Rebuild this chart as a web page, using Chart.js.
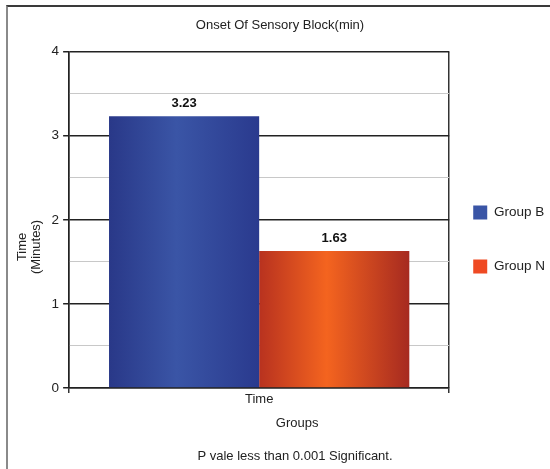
<!DOCTYPE html>
<html>
<head>
<meta charset="utf-8">
<script src="https://cdn.jsdelivr.net/npm/chart.js@4"></script>
<style>
  body { margin: 0; background: #fff; }
  #wrap { position: relative; width: 550px; height: 469px; }
  #frame { position: absolute; left: 6px; top: 5px; right: 0; bottom: 0;
           border-top: 2px solid #3a3a3a; border-left: 2px solid #8a8a8a; pointer-events: none; }
</style>
</head>
<body>
<div id="wrap">
  <canvas id="myChart" width="550" height="469"></canvas>
  <div id="frame"></div>
</div>
<script>
// datos del grafico
var categorias = ['Time'];
var grupos = ['Group B', 'Group N'];
var valoresB = [3.23];
var valoresN = [1.63];
var ticksY = [0, 1, 2, 3, 4];
var nota = 'P vale less than 0.001 Significant.';

// colores del degradado: borde, centro, borde
var coloresB = ['#293888', '#3a55a6', '#2a3a8e'];
var coloresN = ['#b8321f', '#f4641f', '#a62a20'];

Chart.defaults.font.family = '"Liberation Sans", Arial, sans-serif';
Chart.defaults.font.size = 13;
Chart.defaults.color = '#222';

/* degradado horizontal en cada barra */
const degradado = {
    id: 'degradado',
    beforeDatasetsDraw(chart) {
        const c = chart.ctx;
        chart.data.datasets.forEach((ds, i) => {
            chart.getDatasetMeta(i).data.forEach(bar => {
                const g = c.createLinearGradient(bar.x - bar.width / 2, 0, bar.x + bar.width / 2, 0);
                g.addColorStop(0, ds.tonos[0]);
                g.addColorStop(0.45, ds.tonos[1]);
                g.addColorStop(1, ds.tonos[2]);
                bar.options = Object.assign({}, bar.options, { backgroundColor: g });
            });
        });
    }
};

/* valores encima de las barras */
const etiquetas = {
    id: 'etiquetas',
    afterDatasetsDraw(chart) {
        const c = chart.ctx;
        c.save();
        c.font = 'bold 13px "Liberation Sans", Arial, sans-serif';
        c.fillStyle = '#111';
        c.textAlign = 'center';
        c.textBaseline = 'bottom';
        chart.data.datasets.forEach((ds, i) => {
            chart.getDatasetMeta(i).data.forEach((bar, j) => {
                c.fillText(ds.data[j].toFixed(2), bar.x, bar.y - 6);
            });
        });
        c.restore();
    }
};

/* acomodar leyenda, titulo y nota como en la imagen */
function mover(box, dx, dy) {
    box.left += dx; box.right += dx;
    box.top += dy; box.bottom += dy;
}
const acomodo = {
    id: 'acomodo',
    afterLayout(chart) {
        mover(chart.legend, -16, 5);
        mover(chart.titleBlock, -13, 0);
        const sub = chart.boxes.find(b => b !== chart.titleBlock && b.options && b.options.text === nota);
        if (sub) mover(sub, 2, 0);
    }
};

const ctx = document.getElementById('myChart');
new Chart(ctx, {
    type: 'bar',
    data: {
        labels: categorias,
        datasets: [{
            label: grupos[0],
            data: valoresB,
            tonos: coloresB,
            backgroundColor: coloresB[1],
            borderWidth: 0
        },
        {
            label: grupos[1],
            data: valoresN,
            tonos: coloresN,
            backgroundColor: '#ef4a23',
            borderWidth: 0
        }]
    },
    options: {
        responsive: false,
        animation: false,
        layout: { padding: { left: 15, right: -21 } },
        categoryPercentage: 0.79,
        barPercentage: 1.0,
        plugins: {
            title: {
                display: true,
                text: 'Onset Of Sensory Block(min)',
                font: { size: 13, weight: 'normal' },
                color: '#222',
                padding: { top: 18, bottom: 18 }
            },
            subtitle: {
                display: true,
                position: 'bottom',
                text: nota,
                font: { size: 13 },
                color: '#222',
                padding: { top: 17.4, bottom: 5.2 }
            },
            legend: {
                position: 'right',
                labels: {
                    boxWidth: 14,
                    boxHeight: 14,
                    padding: 40,
                    color: '#222',
                    font: { size: 13.5 }
                }
            },
            tooltip: { enabled: false }
        },
        scales: {
            x: {
                offset: true,
                grid: {
                    display: true,
                    offset: true,
                    color: '#333',
                    lineWidth: 1.5,
                    tickLength: 5
                },
                border: { color: '#222', width: 1.5 },
                ticks: { color: '#222', padding: -1 },
                title: {
                    display: true,
                    text: '                     Groups',
                    color: '#222',
                    padding: { top: 8.6, bottom: 0 }
                }
            },
            y: {
                min: 0,
                max: 4,
                ticks: {
                    stepSize: 0.5,
                    padding: 4,
                    color: '#222',
                    font: { size: 13.5 },
                    callback: function(value) {
                        return ticksY.indexOf(value) >= 0 ? value : '';
                    }
                },
                grid: {
                    color: function(c) {
                        return Number.isInteger(c.tick.value) ? '#222' : '#c8c8c8';
                    },
                    lineWidth: function(c) {
                        return Number.isInteger(c.tick.value) ? 1.5 : 1;
                    },
                    tickColor: function(c) {
                        return Number.isInteger(c.tick.value) ? '#222' : 'rgba(0,0,0,0)';
                    },
                    tickLength: 6
                },
                border: { color: '#222', width: 1.5 },
                title: {
                    display: true,
                    text: ['Time               ', '(Minutes)               '],
                    color: '#222',
                    font: { size: 13, lineHeight: 1.1 },
                    padding: { top: 0, bottom: 4 }
                }
            }
        }
    },
    plugins: [degradado, etiquetas, acomodo]
});
</script>
</body>
</html>
